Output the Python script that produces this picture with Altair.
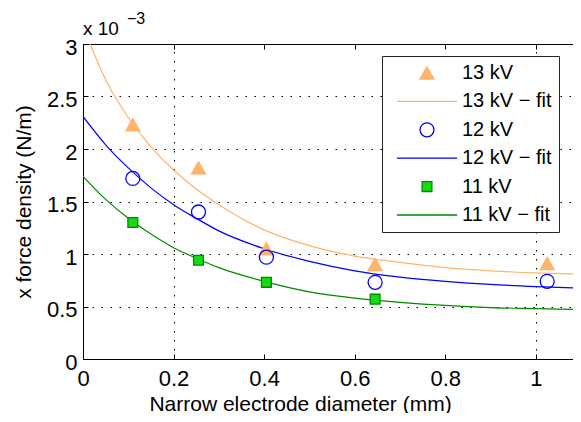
import altair as alt
import pandas as pd

FONT = "Liberation Sans"

# ---- data (force density in units of 1e-3 N/m) ----
series = ["13 kV", "13 kV − fit", "12 kV", "12 kV − fit", "11 kV", "11 kV − fit"]

x_meas = [0.11, 0.255, 0.405, 0.645, 1.025]
y_13 = [2.23, 1.82, 1.05, 0.90, 0.91]
y_12 = [1.72, 1.40, 0.97, 0.73, 0.74]
x_meas_11 = [0.11, 0.255, 0.405, 0.645]
y_11 = [1.30, 0.94, 0.73, 0.57]

x_fit = [0, 0.05, 0.1, 0.15, 0.2, 0.25, 0.3, 0.4, 0.5, 0.6, 0.7, 0.8, 0.9, 1.0, 1.1]
fit_13 = [3.17, 2.66, 2.30, 2.02, 1.80, 1.62, 1.47, 1.23, 1.08, 0.98, 0.92, 0.87, 0.84, 0.82, 0.81]
fit_12 = [2.31, 2.04, 1.82, 1.63, 1.47, 1.34, 1.22, 1.05, 0.93, 0.84, 0.78, 0.74, 0.71, 0.69, 0.675]
fit_11 = [1.74, 1.52, 1.34, 1.19, 1.06, 0.96, 0.87, 0.74, 0.64, 0.58, 0.54, 0.51, 0.49, 0.48, 0.47]

x_ticks = [0, 0.2, 0.4, 0.6, 0.8, 1.0]
x_grid = [0.2, 1.0]
y_ticks = [0, 0.5, 1, 1.5, 2, 2.5, 3]

ORANGE = "#FFB36B"
BLUE = "#0000FF"
DKGREEN = "#008A00"
LIME = "#11DD11"

LINE_PATH = "M-4.3,0L4.3,0"
SQUARE_PATH = "M-0.7,-0.7L0.7,-0.7L0.7,0.7L-0.7,0.7Z"

stroke_range = [ORANGE, ORANGE, BLUE, BLUE, DKGREEN, DKGREEN]
fill_range = [ORANGE, "transparent", "transparent", "transparent", LIME, "transparent"]
shape_range = ["triangle-up", LINE_PATH, "circle", LINE_PATH, SQUARE_PATH, LINE_PATH]

pts = pd.concat([
    pd.DataFrame({"x": x_meas, "y": y_13, "series": "13 kV"}),
    pd.DataFrame({"x": x_meas, "y": y_12, "series": "12 kV"}),
    pd.DataFrame({"x": x_meas_11, "y": y_11, "series": "11 kV"}),
])
fits = pd.concat([
    pd.DataFrame({"x": x_fit, "y": fit_13, "series": "13 kV − fit"}),
    pd.DataFrame({"x": x_fit, "y": fit_12, "series": "12 kV − fit"}),
    pd.DataFrame({"x": x_fit, "y": fit_11, "series": "11 kV − fit"}),
])

# the reference axis runs past the right edge of the picture; show the visible part
xs = alt.Scale(domain=[0, 1.082], nice=False, zero=False)
ys = alt.Scale(domain=[0, 3], nice=False, zero=False)
stroke_sc = alt.Scale(domain=series, range=stroke_range)
fill_sc = alt.Scale(domain=series, range=fill_range)
shape_sc = alt.Scale(domain=series, range=shape_range)
noleg = alt.Legend(title=None)

GRID = dict(grid=True, gridColor="black", gridDash=[1.5, 7.5], gridWidth=1, gridOpacity=1)
DOMAIN = dict(domain=True, domainColor="black", domainWidth=1)

def tick_axis(orient, values):
    return alt.Axis(orient=orient, offset=-5, values=values, labels=False, ticks=True,
                    tickSize=5, tickColor="black", tickWidth=1, domain=False, grid=False, title=None)

# main axes with labels
x_main = alt.Axis(orient="bottom", values=x_ticks, format="~g", labels=True, ticks=False,
                  grid=False, labelFont=FONT, labelFontSize=22, labelColor="black", labelPadding=9,
                  labelFlush=False,
                  title="Narrow electrode diameter (mm)", titleFont=FONT, titleFontSize=21,
                  titleFontWeight="normal", titleColor="black", titleX=217, titlePadding=4, **DOMAIN)
y_main = alt.Axis(orient="left", values=y_ticks, format="~g", labels=True, ticks=False,
                  labelFont=FONT, labelFontSize=22, labelColor="black", labelPadding=6, labelOffset=3,
                  labelFlush=False,
                  title="x force density (N/m)", titleFont=FONT, titleFontSize=21,
                  titleFontWeight="normal", titleColor="black", titlePadding=12, **GRID, **DOMAIN)
x_top = alt.Axis(orient="top", values=x_grid, labels=False, ticks=False, title=None, **GRID, **DOMAIN)

line_base = alt.Chart(fits).mark_line(strokeWidth=1.2, clip=True, interpolate="monotone")
lines_a = line_base.transform_filter(alt.FieldOneOfPredicate(field="series", oneOf=["13 kV − fit", "12 kV − fit"])).encode(
    x=alt.X("x:Q", scale=xs, axis=x_main),
    y=alt.Y("y:Q", scale=ys, axis=y_main),
    stroke=alt.Stroke("series:N", scale=stroke_sc, legend=noleg),
)
lines_b = line_base.transform_filter(alt.FieldEqualPredicate(field="series", equal="11 kV − fit")).encode(
    x=alt.X("x:Q", scale=xs, axis=x_top),
    y=alt.Y("y:Q", scale=ys, axis=None),
    stroke=alt.Stroke("series:N", scale=stroke_sc, legend=noleg),
)

pt_base = alt.Chart(pts).mark_point(size=196, strokeWidth=1.3, opacity=1, filled=False, clip=True)
def pt_enc(ch, xaxis, yaxis):
    return ch.encode(
        x=alt.X("x:Q", scale=xs, axis=xaxis),
        y=alt.Y("y:Q", scale=ys, axis=yaxis),
        shape=alt.Shape("series:N", scale=shape_sc, legend=noleg),
        fill=alt.Fill("series:N", scale=fill_sc, legend=noleg),
        stroke=alt.Stroke("series:N", scale=stroke_sc, legend=noleg),
    )
pts_a = pt_enc(pt_base.transform_filter(alt.FieldOneOfPredicate(field="series", oneOf=["13 kV", "12 kV"])),
               tick_axis("bottom", x_ticks), tick_axis("left", y_ticks))
pts_b = pt_enc(pt_base.transform_filter(alt.FieldEqualPredicate(field="series", equal="11 kV")),
               tick_axis("top", x_ticks), None)

exp_main = alt.Chart(pd.DataFrame({"t": ["x 10"]})).mark_text(
    align="left", baseline="alphabetic", font=FONT, fontSize=19, color="black"
).encode(text="t:N", x=alt.value(0), y=alt.value(-9))
exp_sup = alt.Chart(pd.DataFrame({"t": ["−3"]})).mark_text(
    align="left", baseline="alphabetic", font=FONT, fontSize=16, color="black"
).encode(text="t:N", x=alt.value(44), y=alt.value(-20))

chart = alt.layer(lines_a, lines_b, pts_a, pts_b, exp_main, exp_sup).resolve_axis(
    x="independent", y="independent"
).properties(
    width=490, height=315, autosize="none",
    padding={"left": 75, "top": 36, "right": 0, "bottom": 54},
    background="white",
).configure_view(
    stroke=None
).configure_legend(
    orient="none", legendX=299, legendY=12, fillColor="white", strokeColor="#262626",
    strokeWidth=1, padding=7, labelFont=FONT, labelFontSize=20, labelColor="black",
    labelLimit=300, symbolSize=196, symbolStrokeWidth=1.3, symbolOffset=28, labelOffset=25,
    rowPadding=8.4, cornerRadius=0,
)

chart.save("out.html", embed_options={"renderer": "svg", "actions": False})
